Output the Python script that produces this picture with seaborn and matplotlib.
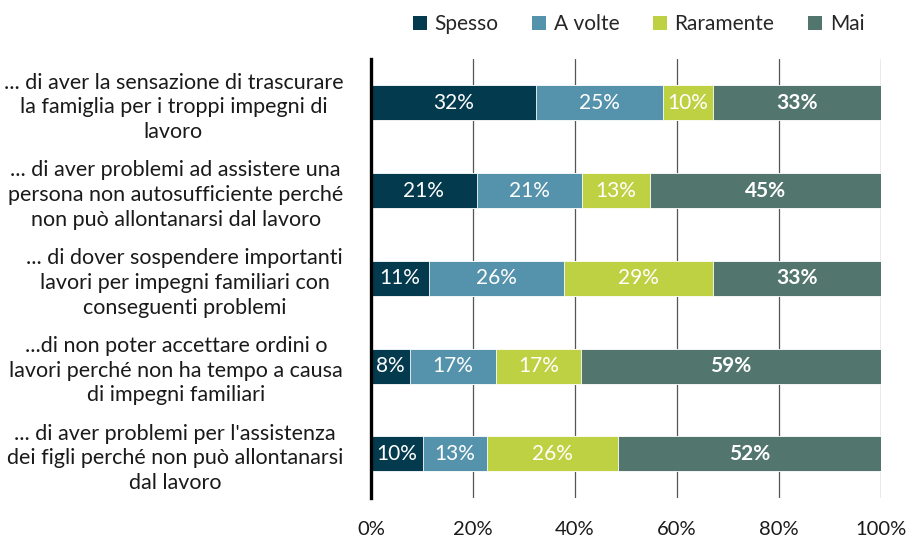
import numpy as np
import pandas as pd
import matplotlib
matplotlib.use("Agg")
import matplotlib.pyplot as plt
import seaborn as sns
from matplotlib.patches import Patch

categories = [
    "... di aver la sensazione di trascurare\nla famiglia per i troppi impegni di\nlavoro",
    "... di aver problemi ad assistere una\npersona non autosufficiente perché\nnon può allontanarsi dal lavoro",
    "... di dover sospendere importanti\nlavori per impegni familiari con\nconseguenti problemi",
    "...di non poter accettare ordini o\nlavori perché non ha tempo a causa\ndi impegni familiari",
    "... di aver problemi per l'assistenza\ndei figli perché non può allontanarsi\ndal lavoro",
]
series = ["Spesso", "A volte", "Raramente", "Mai"]
spesso = [32.3, 20.7, 11.4, 7.7, 10.1]
a_volte = [24.9, 20.6, 26.4, 16.8, 12.7]
raramente = [9.8, 13.4, 29.3, 16.7, 25.6]
mai = [33.0, 45.3, 32.8, 58.8, 51.6]
colors = ["#033a4e", "#5592ac", "#bed142", "#52766d"]
xticks = [0, 20, 40, 60, 80, 100]

sns.set_style("white")
plt.rcParams["font.family"] = ["Lato", "DejaVu Sans"]

df = pd.DataFrame({"cat": categories, "Spesso": spesso, "A volte": a_volte,
                   "Raramente": raramente, "Mai": mai})
cum = df[series].cumsum(axis=1)

fig = plt.figure(figsize=(9.16, 5.37), dpi=100)
ax = fig.add_axes([0.405, 0.073, 0.557, 0.817])

# draw stacked bars: widest cumulative first
for s, c in reversed(list(zip(series, colors))):
    sns.barplot(x=cum[s], y=df["cat"], color=c, orient="h", width=0.4,
                saturation=1, edgecolor="white", linewidth=0.6, ax=ax, zorder=3)

# segment labels
for i in range(len(categories)):
    left = 0
    for s in series:
        v = df.loc[i, s]
        ax.text(left + v / 2, i, f"{round(v)}%", ha="center", va="center",
                color="white", fontsize=15,
                fontweight="bold" if s == "Mai" else "normal", zorder=4)
        left += v

ax.set_xlim(0, 100)
ax.set_ylim(4.5, -0.5)
ax.set_xticks(xticks)
ax.set_xticklabels([f"{t}%" for t in xticks], fontsize=14.5, color="#1a1a1a")
ax.set_xlabel("")
ax.set_ylabel("")
ax.tick_params(axis="x", length=0, pad=17)
ax.tick_params(axis="y", length=0, pad=20)
for t in ax.get_yticklabels():
    t.set_fontsize(15.5)
    t.set_multialignment("center")
    t.set_color("#1a1a1a")
    t.set_linespacing(1.3)

ax.grid(axis="x", color="#555555", linewidth=0.9, zorder=0)
ax.grid(axis="y", visible=False)
for side in ["top", "right", "bottom"]:
    ax.spines[side].set_visible(False)
ax.spines["left"].set_linewidth(2.4)
ax.spines["left"].set_color("black")
ax.spines["left"].set_zorder(5)

handles = [Patch(facecolor=c, edgecolor="none") for c in colors]
fig.legend(handles, series, loc="center", bbox_to_anchor=(0.697, 0.955), ncol=4,
           frameon=False, fontsize=15, handlelength=0.7, handleheight=0.7,
           handletextpad=0.35, columnspacing=1.6)

fig.savefig("out.png", dpi=100)
